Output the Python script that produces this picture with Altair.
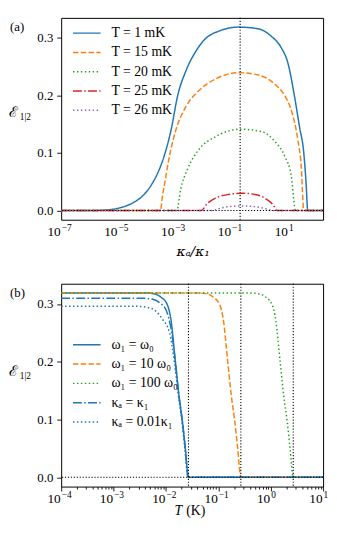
import altair as alt
import pandas as pd

SERIF = "Liberation Serif"
SCRIPT = "DejaVu Serif"

# ---------------- Panel (a): E vs kappa_a/kappa_1 (log10 positions) -------------
a_labels = ["T = 1 mK", "T = 15 mK", "T = 20 mK", "T = 25 mK", "T = 26 mK"]
a_colors = ["#1f77b4", "#ff7f0e", "#2ca02c", "#d62728", "#9467bd"]
a_dashes = [[1, 0], [5.5, 2.4], [1.5, 2.5], [9, 2.4, 1.5, 2.4], [1.5, 2.5]]

a_T1_logk = [-7, -6, -5.6, -5.05, -4.47, -4.12, -3.77, -3.54, -3.34, -3.13, -2.90, -2.61, -2.26, -1.92,
             -1.45, -0.76, -0.06, 0.40, 0.75, 0.98, 1.21, 1.39, 1.54, 1.62, 1.68, 2.22]
a_T1_E = [0, 0, 0.0005, 0.0034, 0.0136, 0.026, 0.049, 0.072, 0.100, 0.140, 0.199, 0.242, 0.276, 0.298,
          0.311, 0.318, 0.315, 0.302, 0.282, 0.256, 0.199, 0.145, 0.100, 0.049, 0.0, 0.0]

a_T15_logk = [-7, -3.50, -3.45, -3.37, -3.19, -2.96, -2.61, -2.15, -1.57, -0.76, -0.06, 0.52, 0.87,
              1.10, 1.33, 1.45, 1.54, 2.22]
a_T15_E = [0, 0, 0.02, 0.043, 0.094, 0.14, 0.18, 0.208, 0.228, 0.239, 0.235, 0.219, 0.199,
           0.174, 0.123, 0.077, 0, 0]

a_T20_logk = [-7, -2.93, -2.79, -2.55, -2.15, -1.57, -0.70, 0.05, 0.52, 0.87, 1.10, 1.25, 2.22]
a_T20_E = [0, 0, 0.0375, 0.072, 0.106, 0.128, 0.141, 0.137, 0.12, 0.094, 0.06, 0, 0]

a_T25_logk = [-7, -2.07, -1.86, -1.57, -1.10, -0.64, -0.18, 0.17, 0.46, 0.61, 2.22]
a_T25_E = [0, 0, 0.012, 0.0216, 0.028, 0.030, 0.028, 0.0216, 0.010, 0, 0]

a_T26_logk = [-7, -1.69, -1.4, -1.1, -0.64, -0.2, 0.15, 0.46, 2.22]
a_T26_E = [0, 0, 0.004, 0.0068, 0.008, 0.0068, 0.004, 0, 0]

a_vline_logk = [-0.70]
a_xticks_exp = [-7, -5, -3, -1, 1]
a_xtick_sup = ["\u22127", "\u22125", "\u22123", "\u22121", "1"]
a_xdomain_exp = [-7, 2.22]
a_ydomain = [-0.0159, 0.334]

# ---------------- Panel (b): E vs T (K) -------------
b_labels = ["ω₁ = ω₀", "ω₁ = 10 ω₀", "ω₁ = 100 ω₀", "κₐ = κ₁", "κₐ = 0.01κ₁"]
b_colors = ["#1f77b4", "#ff7f0e", "#2ca02c", "#1f77b4", "#1f77b4"]
b_dashes = [[1, 0], [5.5, 2.4], [1.5, 2.5], [9, 2.4, 1.5, 2.4], [1.5, 2.5]]

b_w1_logT = [-4, -2.4, -2.2, -2.1, -1.98, -1.9, -1.82, -1.75, -1.69, -1.63, -1.57, 1]
b_w1_E = [0.319, 0.319, 0.317, 0.312, 0.30, 0.27, 0.2, 0.14, 0.1, 0.05, 0, 0]

b_w10_logT = [-4, -1.4, -1.2, -1.1, -0.98, -0.9, -0.82, -0.75, -0.69, -0.63, -0.57, 1]
b_w10_E = [0.319, 0.319, 0.317, 0.312, 0.30, 0.27, 0.2, 0.14, 0.1, 0.05, 0, 0]

b_w100_logT = [-4, -0.4, -0.2, -0.1, 0.02, 0.1, 0.18, 0.25, 0.31, 0.37, 0.43, 1]
b_w100_E = [0.319, 0.319, 0.317, 0.312, 0.30, 0.27, 0.2, 0.14, 0.1, 0.05, 0, 0]

b_k1_logT = [-4, -2.45, -2.25, -2.12, -2.0, -1.89, -1.82, -1.75, -1.69, -1.63, -1.575, 1]
b_k1_E = [0.310, 0.310, 0.308, 0.302, 0.29, 0.25, 0.2, 0.14, 0.1, 0.05, 0, 0]

b_k001_logT = [-4, -2.6, -2.35, -2.2, -2.07, -1.93, -1.84, -1.76, -1.70, -1.64, -1.58, 1]
b_k001_E = [0.296, 0.296, 0.294, 0.288, 0.274, 0.25, 0.2, 0.14, 0.1, 0.05, 0, 0]

b_vline_logT = [-1.57, -0.57, 0.43]
b_xticks_exp = [-4, -3, -2, -1, 0, 1]
b_xtick_sup = ["\u22124", "\u22123", "\u22122", "\u22121", "0", "1"]
b_xdomain_exp = [-4, 1]
b_ydomain = [-0.016, 0.335]

y_ticks = [0.0, 0.1, 0.2, 0.3]

W = 266
HA = 205
HB = 206


def long_df(labels, xs, ys):
    rows = []
    for lab, xl, yl in zip(labels, xs, ys):
        for e, v in zip(xl, yl):
            rows.append({"x": 10 ** e, "E": v, "series": lab})
    return pd.DataFrame(rows)


def legend(lx, ly):
    return alt.Legend(orient="none", legendX=lx, legendY=ly, title=None,
                      symbolType="M-2.333,0H2.333", symbolSize=144, symbolStrokeWidth=1.5,
                      labelFont=SERIF, labelFontSize=14, labelColor="black",
                      labelOffset=18, rowPadding=5.6, padding=0)


def panel(df, labels, colors, dashes, vlines, xticks, xsup, xdom, ydom, H, lx, ly, minor=None):
    xscale = alt.Scale(type="log", domain=[10 ** xdom[0], 10 ** xdom[1]], nice=False)
    yscale = alt.Scale(domain=ydom, nice=False, zero=False)
    lg = legend(lx, ly)
    main_axis = alt.Axis(values=[10 ** e for e in xticks], labels=False, title=None, orient="bottom")
    lines = alt.Chart(df).mark_line(strokeWidth=1.5, clip=True, interpolate="monotone").encode(
        x=alt.X("x:Q", scale=xscale, axis=main_axis),
        y=alt.Y("E:Q", scale=yscale, axis=alt.Axis(values=y_ticks, format=".1f", title=None)),
        color=alt.Color("series:N", scale=alt.Scale(domain=labels, range=colors), legend=lg),
        strokeDash=alt.StrokeDash("series:N", scale=alt.Scale(domain=labels, range=dashes), legend=lg),
    )
    vdf = pd.DataFrame({"x": [10 ** e for e in vlines]})
    if minor is not None:
        xaxis2 = alt.Axis(values=minor, labels=False, tickSize=2.5, domain=False, grid=False,
                          title=None, orient="bottom")
    else:
        xaxis2 = main_axis
    vr = alt.Chart(vdf).mark_rule(color="black", strokeDash=[1.2, 1.8], strokeWidth=1.1).encode(
        x=alt.X("x:Q", scale=xscale, axis=xaxis2)
    )
    hr = alt.Chart(pd.DataFrame({"E": [0.0]})).mark_rule(
        color="black", strokeDash=[1.2, 1.8], strokeWidth=1.1).encode(
        y=alt.Y("E:Q", scale=yscale)
    )
    # tick labels "10" with superscript exponent, placed at the tick values through the x scale
    tdf = pd.DataFrame({"x": [10 ** e for e in xticks], "base": ["10"] * len(xticks), "sup": xsup})
    base = alt.Chart(tdf).mark_text(align="right", baseline="middle", font=SERIF, fontSize=13.5,
                                    color="black", dx=-0.5).encode(
        x=alt.X("x:Q", scale=xscale, axis=None), y=alt.value(H + 13), text="base:N")
    sup = alt.Chart(tdf).mark_text(align="left", baseline="middle", font=SERIF, fontSize=9.5,
                                   color="black", dx=0.5).encode(
        x=alt.X("x:Q", scale=xscale, axis=None), y=alt.value(H + 8.5), text="sup:N")
    layers = alt.layer(lines, vr, hr, base, sup)
    if minor is not None:
        layers = layers.resolve_axis(x="independent")
    return layers.properties(width=W, height=H)


def texts(items):
    out = []
    one = pd.DataFrame({"k": [0]})
    for txt, x, y, size, style, font in items:
        out.append(alt.Chart(one).mark_text(align="left", baseline="middle", font=font,
                                            fontSize=size, fontStyle=style, color="black").encode(
            x=alt.value(x), y=alt.value(y), text=alt.value(txt)))
    return out


dfa = long_df(a_labels, [a_T1_logk, a_T15_logk, a_T20_logk, a_T25_logk, a_T26_logk],
              [a_T1_E, a_T15_E, a_T20_E, a_T25_E, a_T26_E])
dfb = long_df(b_labels, [b_w1_logT, b_w10_logT, b_w100_logT, b_k1_logT, b_k001_logT],
              [b_w1_E, b_w10_E, b_w100_E, b_k1_E, b_k001_E])

minor_b = [m * 10 ** d for d in range(-4, 1) for m in range(2, 10)]

pa = panel(dfa, a_labels, a_colors, a_dashes, a_vline_logk, a_xticks_exp, a_xtick_sup, a_xdomain_exp,
           a_ydomain, HA, 19, 8.5)
pb = panel(dfb, b_labels, b_colors, b_dashes, b_vline_logT, b_xticks_exp, b_xtick_sup, b_xdomain_exp,
           b_ydomain, HB, 19, 55, minor=minor_b)

ta = texts([("(a)", -52, 9, 13, "normal", SERIF),
            ("\u2130", -53, 96, 15, "normal", SCRIPT),
            ("1|2", -42, 101, 9.5, "normal", SERIF),
            ("\u03ba\u2090/\u03ba\u2081", 117, HA + 33, 14, "italic", SCRIPT)])
tb = texts([("(b)", -52, 9, 13, "normal", SERIF),
            ("\u2130", -53, 89, 15, "normal", SCRIPT),
            ("1|2", -42, 94, 9.5, "normal", SERIF),
            ("T", 115, HB + 25, 14, "italic", SERIF),
            ("(K)", 127, HB + 25, 14, "normal", SERIF)])

pa_full = alt.layer(pa, *ta).properties(width=W, height=HA)
pb_full = alt.layer(pb, *tb).properties(width=W, height=HB)

chart = alt.vconcat(pa_full, pb_full, spacing=22).resolve_scale(
    color="independent", strokeDash="independent"
).properties(
    padding={"left": 0, "top": 4, "right": 0, "bottom": 2}
).configure_view(
    stroke="black", strokeWidth=1
).configure_axis(
    grid=False, domain=False, tickColor="black", tickSize=4.5, tickWidth=0.9,
    labelFont=SERIF, labelFontSize=13, labelColor="black", labelPadding=4,
)

chart.save("out.html", embed_options={"renderer": "svg", "actions": False})
